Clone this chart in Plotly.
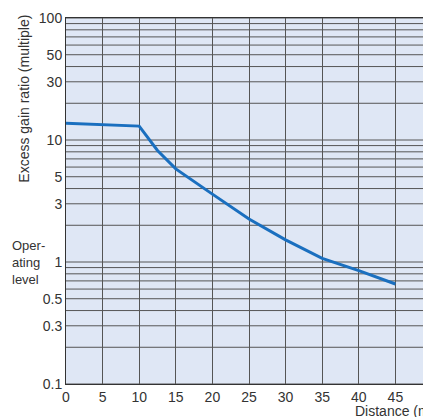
import plotly.graph_objects as go

distance = [0, 10, 12.5, 15, 20, 25, 30, 35, 40, 45]
gain = [13.7, 13.0, 8.2, 5.8, 3.6, 2.25, 1.52, 1.07, 0.85, 0.66]
y_ticks = [0.1, 0.3, 0.5, 1, 3, 5, 10, 30, 50, 100]
y_tick_text = ["0.1", "0.3", "0.5", "1", "3", "5", "10", "30", "50", "100"]
x_ticks = [0, 5, 10, 15, 20, 25, 30, 35, 40, 45, 50]

grid_vals = [m * 10 ** e for e in (-1, 0, 1) for m in range(1, 10)] + [100]

fig = go.Figure()
fig.add_trace(go.Scatter(x=distance, y=gain, mode="lines",
                         line=dict(color="#1a6fbf", width=3), hoverinfo="skip"))

for v in grid_vals:
    fig.add_shape(type="line", xref="paper", x0=0, x1=1, yref="y", y0=v, y1=v,
                  line=dict(color="#555555", width=1), layer="below")

fig.update_layout(
    width=431, height=417,
    margin=dict(l=58, r=7, t=10, b=41, autoexpand=False),
    paper_bgcolor="white", plot_bgcolor="#dfe7f5",
    showlegend=False,
    font=dict(family="Liberation Sans, Arial, sans-serif", size=14, color="#333333"),
    xaxis=dict(range=[0, 50], tickvals=x_ticks, showgrid=True, gridcolor="#555555",
               gridwidth=1, zeroline=False, showline=True, linecolor="#333333",
               linewidth=1, mirror=True, ticks="", tickfont=dict(size=14)),
    yaxis=dict(type="log", range=[-1, 2], tickvals=y_ticks, ticktext=y_tick_text,
               showgrid=False, zeroline=False, showline=True, linecolor="#333333",
               linewidth=1, mirror=True, ticks="", tickfont=dict(size=14)),
    annotations=[
        dict(text="Excess gain ratio (multiple)", xref="paper", yref="paper",
             x=-0.117, y=1.015, xanchor="center", yanchor="top", textangle=-90,
             showarrow=False, font=dict(size=14)),
        dict(text="Oper-<br>ating<br>level", xref="paper", yref="y", x=-0.152, y=0,
             xanchor="left", yanchor="middle", align="left", showarrow=False,
             font=dict(size=13)),
        dict(text="Distance (m)", xref="paper", yref="paper", x=1.01, y=-0.074,
             xanchor="right", yanchor="middle", showarrow=False, font=dict(size=14)),
    ],
)
fig.write_html("out.html")
